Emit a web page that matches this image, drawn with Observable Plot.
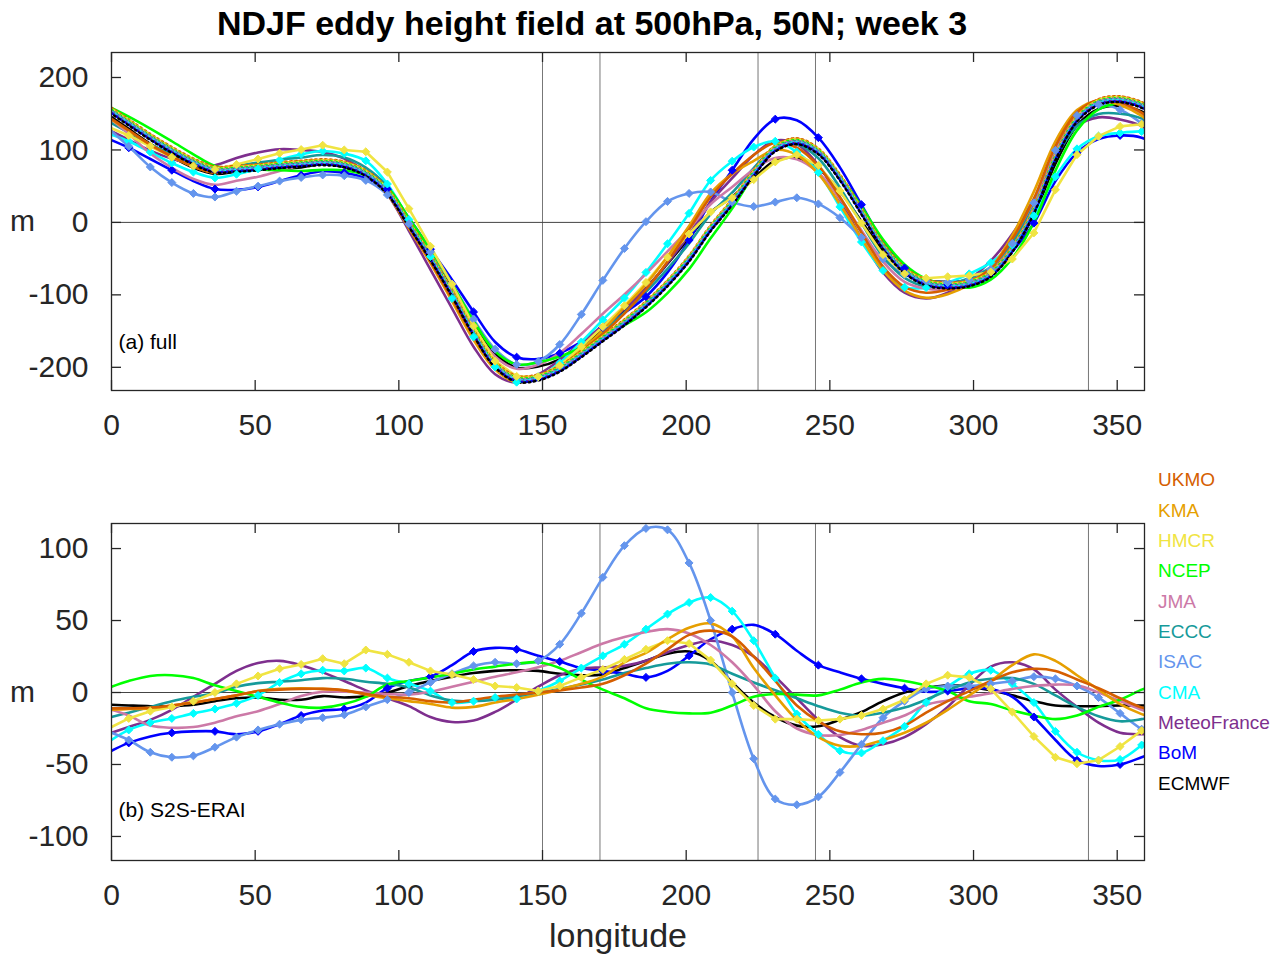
<!DOCTYPE html>
<html>
<head>
<meta charset="utf-8">
<script src="https://cdn.jsdelivr.net/npm/d3@7"></script>
<script src="https://cdn.jsdelivr.net/npm/@observablehq/plot@0.6"></script>
<style>
  html, body { margin: 0; padding: 0; background: #ffffff; }
  #wrap { position: relative; width: 1277px; height: 958px; overflow: hidden; font-family: "Liberation Sans", Arial, Helvetica, sans-serif; }
  #title { position: absolute; left: 0; top: 6px; width: 1184px; text-align: center; font-weight: bold; font-size: 34px; line-height: 34px; color: #000; z-index: 5; white-space: nowrap; }
  .leg { position: absolute; left: 1158px; font-size: 19px; line-height: 19px; white-space: nowrap; z-index: 5; }
</style>
</head>
<body>
<div id="wrap">
  <div id="title">NDJF eddy height field at 500hPa, 50N; week 3</div>
</div>
<script>
// ---------------- data ----------------
const lon = [0, 6, 13.5, 21, 28.5, 36, 43.5, 51, 58.5, 66, 73.5, 81, 88.5, 96, 103.5, 111, 118.5, 126, 133.5, 141,
  148.5, 156, 163.5, 171, 178.5, 186, 193.5, 201, 208.5, 216, 223.5, 231, 238.5, 246, 253.5, 261, 268.5, 276, 283.5, 291,
  298.5, 306, 313.5, 321, 328.5, 336, 343.5, 351, 358.5, 360];

// ERA-Interim eddy height (m), the dotted reference in panel (a)
const erai = [154, 138, 118, 100, 84, 73, 74, 76, 79, 81, 83, 80, 68, 43, -2, -48, -98, -152, -196, -216,
  -214, -202, -182, -160, -138, -113, -84, -50, -8, 28, 68, 102, 112, 98, 62, 15, -33, -66, -83, -87,
  -84, -71, -37, 16, 90, 143, 166, 170, 162, 158];

// S2S - ERAI differences (m), panel (b)
const ukmo = [-11, -11, -10.5, -9, -7, -4.5, -2, 1, 2, 2.5, 2.5, 1.5, -1, -3, -4, -6, -7, -5, -3, -1.5,
  0, 1.5, 3.5, 6, 12, 20, 30, 40, 43, 39, 25, 8, -9, -20, -27, -29, -28, -23, -14, -6,
  1, 8, 14, 16.5, 15, 9, 3, -4, -10.5, -11];
const kma = [-12, -11.5, -11, -9, -7, -4.5, -2, 1, 2.5, 3, 2.5, 1.5, -1.5, -4, -6, -8, -10.5, -10, -7, -4.5,
  -1.5, 2, 6, 11, 21, 27.5, 37, 45, 48, 39, 17, -2, -19, -31, -37, -37, -33, -28, -21, -12,
  -2, 8, 19, 26.5, 22, 12, 2, -8, -15, -16];
const hmcr = [-24, -18, -13, -10, -6, 0, 6, 11.5, 16.5, 19.5, 23.5, 20, 29.5, 26.5, 21, 15, 12.5, 9, 4.5, 3.5,
  1, 4.5, 10.5, 16, 23, 30, 36, 34, 22.5, 6, -9, -18.5, -18.5, -19.5, -18.5, -16, -11.5, -5, 6, 12,
  10.5, 2.5, -13.5, -30.5, -45, -49.5, -47, -37.5, -26.5, -24.5];
const ncep = [4, 8, 11.5, 12, 10, 5, 1, -3, -7, -10, -10.5, -8, -3, 5.5, 8, 10.5, 13, 16, 18, 20,
  21, 17, 9, 2, -4, -11, -13.5, -14.5, -14, -9, -3, -1, -1.5, -2, 2, 7, 9.5, 8, 5, 1,
  -6, -8, -12.5, -16, -18.5, -16, -10, -5, 2, 3];
const jma = [-12, -16, -23, -24.5, -24, -21, -16.5, -13, -8, -2.5, 0.5, 0.5, 0, -1, -1.5, 0.5, 4, 7.5, 11, 14,
  17.5, 22, 28, 34, 38.5, 42, 44, 41, 33, 21, 5, -13, -25, -29.5, -29.5, -26, -21, -16, -8.5, -5.5,
  -3, -0.5, 2.5, 4.5, 5.5, 5, 0, -6, -12, -13];
const eccc = [-17, -14, -10, -6, -3, -0.5, 4, 6.5, 7.5, 8.5, 10, 9.5, 7.5, 6, 3.5, -2, -5.5, -6, -5, -2.5,
  0, 2.5, 5.5, 9, 13.5, 17, 20, 21, 19.5, 13, 7, 1.5, -4, -9.5, -14, -16, -14, -10.5, -5, 1.5,
  7, 9.5, 10, 6, -2, -10, -16.5, -20, -18.5, -18];
const isac = [-28, -33, -41.5, -45, -44, -38, -31, -26, -22, -19, -17.5, -15.5, -10, -5, 0, 7, 13, 18.5, 21, 20,
  22, 33.5, 55, 80, 102, 114, 113, 90, 50, 0, -46, -74, -78, -72.5, -55.5, -36, -17.5, -6, 2.5, 4.5,
  4.5, 6, 8, 11, 9.5, 4.5, -3.5, -14.5, -25.5, -27];
const cma = [-33, -26, -21, -18, -14.5, -11.5, -7.5, -2, 7, 13, 15.5, 15, 17, 10, 6, 1, -7, -6, -3.5, -4.5,
  1, 8, 17, 25.5, 33.5, 44, 54.5, 62.5, 66, 56.5, 36, 10, -15, -29, -40.5, -42, -33.5, -23.5, -7, 4,
  13, 15.5, 6, -7, -27, -41.5, -47, -46.5, -36.5, -34];
const meteofrance = [-28, -24, -19, -12, -3, 6, 15, 20.5, 22, 19, 14, 8, 1.5, -4, -9.5, -17, -20.5, -19.5, -13.5, -5,
  4, 12, 16.5, 17.5, 18.5, 22, 28, 33, 36, 33, 25, 11, -4, -19, -31, -37, -36, -31, -22, -10,
  5, 18, 21, 16, 2, -10, -21, -28, -29, -29];
const bom = [-40.5, -35, -30.5, -28, -27, -27, -29, -27, -22, -16, -12.5, -11.5, -7, 3, 8, 11, 19, 28.5, 31, 30,
  25.5, 21.5, 17, 15, 13, 10.5, 15, 25.5, 37, 44, 47, 40.5, 29, 19, 14, 9.5, 6, 3, 0.5, 1,
  3, 2.5, -3, -17, -33, -47, -51, -50, -45, -44];
const ecmwf = [-8.5, -9, -9.5, -9.5, -8.5, -6, -4, -3.5, -5, -5, -2.5, -3.5, -2.5, 0, 4.5, 8, 11, 13.5, 15, 15.5,
  15, 13, 12, 12.5, 17, 22, 27, 28.5, 22, 7, -7, -17, -23, -23.5, -19, -13.5, -6, 0, 3, 5,
  4, 1.5, -2, -6, -9, -9.5, -9.5, -9, -9, -9];

const modelNames = ["UKMO", "KMA", "HMCR", "NCEP", "JMA", "ECCC", "ISAC", "CMA", "MeteoFrance", "BoM", "ECMWF"];
const modelColors = ["#D55E00", "#E69F00", "#F0E442", "#00FF00", "#CC79A7", "#169A9A", "#6495ED", "#00FFFF", "#7E2F8E", "#0000FF", "#000000"];
const modelDiffs = [ukmo, kma, hmcr, ncep, jma, eccc, isac, cma, meteofrance, bom, ecmwf];
const markerStep = {HMCR: 1, ISAC: 1, CMA: 1, BoM: 2};

const xTicks = [0, 50, 100, 150, 200, 250, 300, 350];
const yTicksA = [-200, -100, 0, 100, 200];
const yTicksB = [-100, -50, 0, 50, 100];
const refLon = [150, 170, 225, 245, 340];

// ---------------- build tables ----------------
const eraiRows = lon.map((x, i) => ({lon: x, v: erai[i]}));
const models = modelNames.map((name, k) => ({
  name,
  color: modelColors[k],
  rows: lon.map((x, i) => ({lon: x, diff: modelDiffs[k][i], full: erai[i] + modelDiffs[k][i], i}))
}));
const drawOrder = models.slice().reverse();

const FONT = '"Liberation Sans", Arial, Helvetica, sans-serif';
const INK = "#262626";

function panel({top, height, marginTop, marginBottom, yDomain, yTicks, field, label, labelDy, dotted, xlabel}) {
  const W = 1277 - 111 - 133;
  const H = height - marginTop - marginBottom;
  const marks = [];
  marks.push(Plot.ruleX(refLon, {stroke: "#777777", strokeWidth: 1}));
  marks.push(Plot.ruleY([0], {stroke: "#444444", strokeWidth: 1}));
  for (const m of drawOrder) {
    marks.push(Plot.line(m.rows, {x: "lon", y: field, stroke: m.color, strokeWidth: 2.6,
      curve: m.name === "HMCR" ? "linear" : "catmull-rom", clip: true}));
  }
  if (dotted) {
    models.forEach((m, k) => {
      marks.push(Plot.line(eraiRows, {x: "lon", y: "v", stroke: m.color, strokeWidth: 2.4,
        strokeDasharray: "1.6 3.4", strokeDashoffset: (k % 3) * 1.7, dy: (k - 5) * 0.6,
        curve: "catmull-rom", clip: true}));
    });
  }
  for (const m of drawOrder) {
    const step = markerStep[m.name];
    if (!step) continue;
    const pts = m.rows.filter(r => r.i > 0 && r.i < lon.length - 1 && (r.i - 1) % step === 0);
    marks.push(Plot.dot(pts, {x: "lon", y: field, symbol: "diamond2", r: 3.6, fill: m.color, stroke: m.color, strokeWidth: 1, clip: true}));
  }
  marks.push(Plot.frame({stroke: INK, strokeWidth: 1.3}));
  // inward ticks on all four sides
  marks.push(Plot.ruleX(xTicks, {insetTop: H - 10, stroke: INK, strokeWidth: 1.3}));
  marks.push(Plot.ruleX(xTicks, {insetBottom: H - 10, stroke: INK, strokeWidth: 1.3}));
  marks.push(Plot.ruleY(yTicks, {insetRight: W - 10, stroke: INK, strokeWidth: 1.3}));
  marks.push(Plot.ruleY(yTicks, {insetLeft: W - 10, stroke: INK, strokeWidth: 1.3}));
  marks.push(Plot.axisX(xTicks, {anchor: "bottom", tickSize: 0, tickPadding: 23, fontSize: 30, label: null, tickFormat: d => String(d), fill: INK}));
  marks.push(Plot.axisY(yTicks, {anchor: "left", tickSize: 0, tickPadding: 23, fontSize: 30, label: null, tickFormat: d => String(d), fill: INK}));
  marks.push(Plot.text(["m"], {frameAnchor: "left", dx: -89, textAnchor: "middle", lineAnchor: "middle", fontSize: 30, fill: INK}));
  marks.push(Plot.text([label], {frameAnchor: "bottom-left", dx: 7, dy: labelDy, textAnchor: "start", lineAnchor: "middle", fontSize: 21, fill: "#000"}));
  if (xlabel) {
    marks.push(Plot.text([xlabel], {frameAnchor: "bottom", dx: -10, dy: 76, textAnchor: "middle", lineAnchor: "middle", fontSize: 34, fill: INK}));
  }
  const el = Plot.plot({
    width: 1277, height,
    marginLeft: 111, marginRight: 133, marginTop, marginBottom,
    x: {domain: [0, 359.5]},
    y: {domain: yDomain},
    style: {fontFamily: FONT, background: "transparent", overflow: "visible"},
    marks
  });
  el.style.position = "absolute";
  el.style.left = "0px";
  el.style.top = top + "px";
  el.style.background = "transparent";
  el.style.overflow = "visible";
  return el;
}

const wrap = document.getElementById("wrap");
wrap.appendChild(panel({top: 0, height: 460, marginTop: 52, marginBottom: 70, yDomain: [-232, 234.5],
  yTicks: yTicksA, field: "full", label: "(a) full", labelDy: -48, dotted: true}));
wrap.appendChild(panel({top: 470, height: 488, marginTop: 53, marginBottom: 98, yDomain: [-116.7, 117.4],
  yTicks: yTicksB, field: "diff", label: "(b) S2S-ERAI", labelDy: -50, dotted: false, xlabel: "longitude"}));

// legend (text entries in the model colours)
const legendTop = [479, 510, 540, 570, 601, 631, 661, 692, 722, 752, 783];
modelNames.forEach((name, k) => {
  const d = document.createElement("div");
  d.className = "leg";
  d.textContent = name;
  d.style.color = modelColors[k];
  d.style.top = (legendTop[k] - 9.5) + "px";
  wrap.appendChild(d);
});
</script>
</body>
</html>
